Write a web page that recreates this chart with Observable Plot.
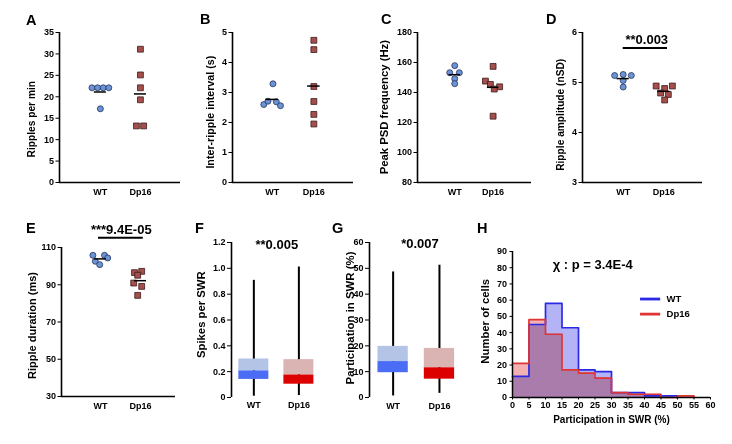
<!DOCTYPE html>
<html><head><meta charset="utf-8">
<script src="https://cdn.jsdelivr.net/npm/d3@7"></script>
<script src="https://cdn.jsdelivr.net/npm/@observablehq/plot@0.6"></script>
<style>
body{margin:0;background:#fff;font-family:"Liberation Sans",Arial,Helvetica,sans-serif;}
#root{position:relative;width:732px;height:444px;overflow:hidden;background:#fff}
.lab{position:absolute;font-weight:bold;font-size:14.5px;line-height:1;color:#000}
</style></head><body><div id="root"></div><script>
// ---------------- data ----------------
const groups = ["WT", "Dp16"];
const panelLetters = ["A","B","C","D","E","F","G","H"];

// A: ripples per min
const ripplesWT = [22.1, 22.1, 22.1, 22.1, 17.2];
const ripplesWTJitter = [-0.21, -0.07, 0.07, 0.21, 0];
const ripplesDp16 = [31.1, 25.1, 22.1, 19.3, 13.2, 13.2];
const ripplesDp16Jitter = [0, 0, 0, 0, -0.1, 0.08];
const ripplesTicks = [0, 5, 10, 15, 20, 25, 30, 35];

// B: inter-ripple interval
const intervalWT = [3.29, 2.60, 2.71, 2.69, 2.56];
const intervalWTJitter = [0.02, -0.2, -0.1, 0.1, 0.2];
const intervalDp16 = [4.74, 4.43, 3.20, 2.70, 2.27, 1.95];
const intervalDp16Jitter = [0, 0, 0, 0, 0, 0];
const intervalTicks = [0, 1, 2, 3, 4, 5];

// C: peak PSD frequency
const freqWT = [157.9, 153.2, 153.2, 149.2, 145.9];
const freqWTJitter = [0, -0.13, 0.12, 0, 0];
const freqDp16 = [157.4, 147.6, 145.4, 143.8, 142.3, 124.2];
const freqDp16Jitter = [0, -0.2, -0.07, 0.17, 0.03, 0];
const freqTicks = [80, 100, 120, 140, 160, 180];

// D: ripple amplitude
const ampWT = [5.14, 5.16, 5.14, 5.04, 4.91];
const ampWTJitter = [-0.21, 0, 0.2, 0, 0];
const ampDp16 = [4.93, 4.93, 4.88, 4.79, 4.76, 4.65];
const ampDp16Jitter = [-0.19, 0.21, 0.02, -0.08, 0.11, 0.02];
const ampTicks = [3, 4, 5, 6];
const ampP = "**0.003";

// E: ripple duration
const durWT = [105.8, 105.8, 104.4, 102.6, 100.8];
const durWTJitter = [-0.19, 0.1, 0.18, -0.13, -0.02];
const durDp16 = [96.5, 97.2, 95.1, 90.9, 89.1, 84.3];
const durDp16Jitter = [-0.15, 0.03, -0.07, -0.17, 0.03, -0.07];
const durTicks = [30, 50, 70, 90, 110];
const durP = "***9.4E-05";

// F: spikes per SWR (box summaries, WT / Dp16)
const spikesMin = [0.01, 0.015];
const spikesQ1 = [0.14, 0.103];
const spikesMedian = [0.206, 0.174];
const spikesQ3 = [0.298, 0.293];
const spikesMax = [0.907, 1.01];
const spikesTicks = [0, 0.2, 0.4, 0.6, 0.8, 1.0, 1.2];
const spikesP = "**0.005";

// G: participation in SWR (%)
const partMin = [0.6, 1.6];
const partQ1 = [9.6, 7.1];
const partMedian = [13.9, 11.5];
const partQ3 = [19.8, 19.0];
const partMax = [48.6, 51.2];
const partTicks = [0, 10, 20, 30, 40, 50, 60];
const partP = "*0.007";

// H: histogram of participation
const binStarts = [0, 5, 10, 15, 20, 25, 30, 35, 40, 45, 50, 55];
const binWidth = 5;
const wtCounts = [13, 45, 58, 43, 17, 16, 3, 3, 1, 1, 0, 0];
const dp16Counts = [21, 48, 39, 17, 15, 12, 3, 2, 2, 0, 1, 0];
const histXTicks = [0, 5, 10, 15, 20, 25, 30, 35, 40, 45, 50, 55, 60];
const histYTicks = [0, 10, 20, 30, 40, 50, 60, 70, 80, 90];
const chiText = "χ : p = 3.4E-4";

// ---------------- drawing ----------------
const root = document.getElementById("root");
const FONT = "'Liberation Sans', Arial, Helvetica, sans-serif";
const circleFill = "#6c93d6", circleStroke = "#22335c";
const squareFill = "#a44f4c", squareStroke = "#3e1a1a";
const lightColors = ["#b3c4e6", "#dab3b3"];
const darkColors = ["#4b6cf5", "#dc0000"];
const histFill = ["#b3b3f6", "#f3b1b1"];
const histLine = ["#2a2ae6", "#e03434"];

function place(svg, left, top) {
  svg.style.position = "absolute";
  svg.style.left = left + "px";
  svg.style.top = top + "px";
  root.appendChild(svg);
}
function baseStyle() {
  return {fontFamily: FONT, fontSize: "9px", fontWeight: "bold", color: "black",
          background: "transparent", overflow: "visible", maxWidth: "none"};
}
function yLabel(text, p, lx, ly, size) {
  return Plot.text([text], {text: d => d, frameAnchor: "top-left", dx: lx - p.mL, dy: ly - p.mT,
    rotate: -90, textAnchor: "middle", lineAnchor: "middle", fontSize: size, fontWeight: "bold", fill: "black"});
}

function dotPanel(p) {
  const wtRows = p.wt.map((v, i) => ({x: 0 + p.wtJ[i], y: v}));
  const dpRows = p.dp.map((v, i) => ({x: 1 + p.dpJ[i], y: v}));
  const means = [{g: 0, m: d3.mean(p.wt)}, {g: 1, m: d3.mean(p.dp)}];
  const marks = [
    Plot.ruleX([p.xDomain[0]], {stroke: "black", strokeWidth: 1.6}),
    Plot.ruleY([p.yDomain[0]], {stroke: "black", strokeWidth: 1.6}),
    Plot.axisY({ticks: p.yTicks, tickSize: 3.5, tickPadding: 2, label: null, tickFormat: d => String(d)}),
    Plot.axisX({ticks: [0, 1], tickFormat: i => groups[i], tickSize: 0, tickPadding: 6.2, label: null}),
    Plot.dot(wtRows, {x: "x", y: "y", r: 3.0, fill: circleFill, stroke: circleStroke, strokeWidth: 0.8}),
    Plot.dot(dpRows, {x: "x", y: "y", r: 3.3, symbol: "square", fill: squareFill, stroke: squareStroke, strokeWidth: 0.8}),
    Plot.ruleY(means, {y: "m", x1: d => d.g - 0.15, x2: d => d.g + 0.15, stroke: "black", strokeWidth: 1.5}),
    yLabel(p.label, p, p.lx, p.ly, p.lsize)
  ];
  if (p.sig) {
    marks.push(Plot.ruleY([p.sig.y], {x1: p.sig.x1, x2: p.sig.x2, stroke: "black", strokeWidth: 2}));
    marks.push(Plot.text([p.sig.text], {text: d => d, x: p.sig.tx, y: p.sig.ty, textAnchor: "middle",
      lineAnchor: "bottom", fontSize: 13, fontWeight: "bold", fill: "black"}));
  }
  const svg = Plot.plot({
    width: p.w, height: p.h, marginLeft: p.mL, marginRight: p.mR, marginTop: p.mT, marginBottom: p.mB,
    x: {domain: p.xDomain}, y: {domain: p.yDomain}, style: baseStyle(), marks
  });
  place(svg, p.left, p.top);
}

function boxPanel(p) {
  const idx = [0, 1];
  const marks = [
    Plot.ruleX([p.xDomain[0]], {stroke: "black", strokeWidth: 1.6}),
    Plot.axisY({ticks: p.yTicks, tickSize: 4, tickPadding: 2, label: null, tickFormat: p.fmt}),
    Plot.axisX({ticks: [0, 1], tickFormat: i => groups[i], tickSize: 0, tickPadding: p.xPad, label: null}),
    Plot.ruleX(idx, {x: i => i, y1: i => p.min[i], y2: i => p.max[i], stroke: "black", strokeWidth: 2}),
    Plot.rect(idx, {x1: i => i - p.hw, x2: i => i + p.hw, y1: i => p.med[i], y2: i => p.q3[i], fill: i => lightColors[i]}),
    Plot.rect(idx, {x1: i => i - p.hw, x2: i => i + p.hw, y1: i => p.q1[i], y2: i => p.med[i], fill: i => darkColors[i]}),
    Plot.text([p.sig.text], {text: d => d, x: p.sig.tx, y: p.sig.ty, textAnchor: "middle",
      lineAnchor: "bottom", fontSize: 13, fontWeight: "bold", fill: "black"}),
    yLabel(p.label, p, p.lx, p.ly, p.lsize)
  ];
  const svg = Plot.plot({
    width: p.w, height: p.h, marginLeft: p.mL, marginRight: p.mR, marginTop: p.mT, marginBottom: p.mB,
    x: {domain: p.xDomain}, y: {domain: p.yDomain}, color: {type: "identity"}, style: baseStyle(), marks
  });
  place(svg, p.left, p.top);
}

// A
dotPanel({left: 0, top: 0, w: 190, h: 200, mL: 59, mR: 10, mT: 32, mB: 18,
  xDomain: [-1.02, 2.0], yDomain: [0, 35], yTicks: ripplesTicks,
  wt: ripplesWT, wtJ: ripplesWTJitter, dp: ripplesDp16, dpJ: ripplesDp16Jitter,
  label: "Ripples per min", lx: 31.7, ly: 118.7, lsize: 10.2});
// B
dotPanel({left: 180, top: 0, w: 190, h: 200, mL: 52, mR: 17, mT: 32, mB: 18,
  xDomain: [-0.95, 1.95], yDomain: [0, 5], yTicks: intervalTicks,
  wt: intervalWT, wtJ: intervalWTJitter, dp: intervalDp16, dpJ: intervalDp16Jitter,
  label: "Inter-ripple interval (s)", lx: 30.5, ly: 111.7, lsize: 10.7});
// C
dotPanel({left: 360, top: 0, w: 190, h: 200, mL: 57, mR: 19, mT: 32, mB: 18,
  xDomain: [-0.97, 2.0], yDomain: [80, 180], yTicks: freqTicks,
  wt: freqWT, wtJ: freqWTJitter, dp: freqDp16, dpJ: freqDp16Jitter,
  label: "Peak PSD frequency (Hz)", lx: 24, ly: 106.7, lsize: 11.3});
// D
dotPanel({left: 540, top: 0, w: 192, h: 200, mL: 42, mR: 30, mT: 32, mB: 18,
  xDomain: [-1.0, 1.95], yDomain: [3, 6], yTicks: ampTicks,
  wt: ampWT, wtJ: ampWTJitter, dp: ampDp16, dpJ: ampDp16Jitter,
  label: "Ripple amplitude (nSD)", lx: 20.7, ly: 114.3, lsize: 10.2,
  sig: {y: 5.69, x1: 0, x2: 1.09, tx: 0.58, ty: 5.78, text: ampP}});
// E
dotPanel({left: 0, top: 200, w: 190, h: 244, mL: 61, mR: 15, mT: 47, mB: 48,
  xDomain: [-0.975, 1.875], yDomain: [30, 110], yTicks: durTicks,
  wt: durWT, wtJ: durWTJitter, dp: durDp16, dpJ: durDp16Jitter,
  label: "Ripple duration (ms)", lx: 32, ly: 125, lsize: 11,
  sig: {y: 115.2, x1: -0.05, x2: 1.07, tx: 0.52, ty: 117.5, text: durP}});
// F
boxPanel({left: 180, top: 200, w: 150, h: 244, mL: 51, mR: 10, mT: 42, mB: 47,
  xDomain: [-0.496, 1.48], yDomain: [0, 1.2], yTicks: spikesTicks,
  fmt: d => d === 0 ? "0" : d.toFixed(1), xPad: 4.2, hw: 0.333,
  min: spikesMin, q1: spikesQ1, med: spikesMedian, q3: spikesQ3, max: spikesMax,
  sig: {tx: 0.51, ty: 1.153, text: spikesP},
  label: "Spikes per SWR", lx: 21.3, ly: 114.2, lsize: 11.3});
// G
boxPanel({left: 335, top: 200, w: 150, h: 244, mL: 34, mR: 15, mT: 42, mB: 47,
  xDomain: [-0.51, 1.67], yDomain: [0, 60], yTicks: partTicks,
  fmt: d => String(d), xPad: 5.2, hw: 0.327,
  min: partMin, q1: partQ1, med: partMedian, q3: partQ3, max: partMax,
  sig: {tx: 0.58, ty: 57.9, text: partP},
  label: "Participation in SWR (%)", lx: 15, ly: 117.5, lsize: 11.4});

// H histogram
(function () {
  const p = {left: 470, top: 200, w: 262, h: 244, mL: 42, mR: 22, mT: 51, mB: 47};
  const area = counts => binStarts.map((x, i) => ({x, y: counts[i]})).concat([{x: binStarts[binStarts.length - 1] + binWidth, y: 0}]);
  const outline = counts => {
    let k = counts.length - 1;
    while (k > 0 && counts[k] === 0) k--;
    return binStarts.slice(0, k + 1).map((x, i) => ({x, y: counts[i]})).concat([{x: binStarts[k] + binWidth, y: 0}]);
  };
  const legendY = [60.7, 51.4];
  const marks = [
    Plot.areaY(area(wtCounts), {x: "x", y: "y", curve: "step-after", fill: histFill[0], mixBlendMode: "multiply"}),
    Plot.areaY(area(dp16Counts), {x: "x", y: "y", curve: "step-after", fill: histFill[1], mixBlendMode: "multiply"}),
    Plot.line(outline(wtCounts), {x: "x", y: "y", curve: "step-after", stroke: histLine[0], strokeWidth: 1.7}),
    Plot.line(outline(dp16Counts), {x: "x", y: "y", curve: "step-after", stroke: histLine[1], strokeWidth: 1.7}),
    Plot.ruleX([0], {stroke: "black", strokeWidth: 1.5}),
    Plot.ruleY([0], {stroke: "black", strokeWidth: 1.5}),
    Plot.axisY({ticks: histYTicks, tickSize: 2.5, tickPadding: 3, label: null, tickFormat: d => String(d)}),
    Plot.axisX({ticks: histXTicks, tickSize: 2.5, tickPadding: 2, label: null, tickFormat: d => String(d)}),
    Plot.text(["Participation in SWR (%)"], {text: d => d, frameAnchor: "bottom", dy: 25, lineAnchor: "bottom",
      fontSize: 10, fontWeight: "bold", fill: "black"}),
    Plot.text([chiText], {text: d => d, x: 24.3, y: 79.2, textAnchor: "middle", lineAnchor: "bottom",
      fontSize: 13, fontWeight: "bold", fill: "black"}),
    Plot.ruleY([0, 1], {y: i => legendY[i], x1: 38.8, x2: 44.9, stroke: i => histLine[i], strokeWidth: 2.8}),
    Plot.text(groups, {text: d => d, x: 46.7, y: (d, i) => legendY[i], textAnchor: "start", lineAnchor: "middle",
      fontSize: 9.5, fontWeight: "bold", fill: "black"}),
    yLabel("Number of cells", p, 15.3, 120.8, 11.3)
  ];
  const svg = Plot.plot({
    width: p.w, height: p.h, marginLeft: p.mL, marginRight: p.mR, marginTop: p.mT, marginBottom: p.mB,
    x: {domain: [0, 60]}, y: {domain: [0, 90]}, color: {type: "identity"}, style: baseStyle(), marks
  });
  place(svg, p.left, p.top);
})();

// panel letters
const letterPos = [[26, 25], [200, 24], [381, 24], [546, 24], [26, 233], [195, 233], [332, 233], [477, 233]];
panelLetters.forEach((L, i) => {
  const d = document.createElement("div");
  d.className = "lab";
  d.textContent = L;
  d.style.left = letterPos[i][0] + "px";
  d.style.top = (letterPos[i][1] - 12.3) + "px";
  root.appendChild(d);
});
</script></body></html>
